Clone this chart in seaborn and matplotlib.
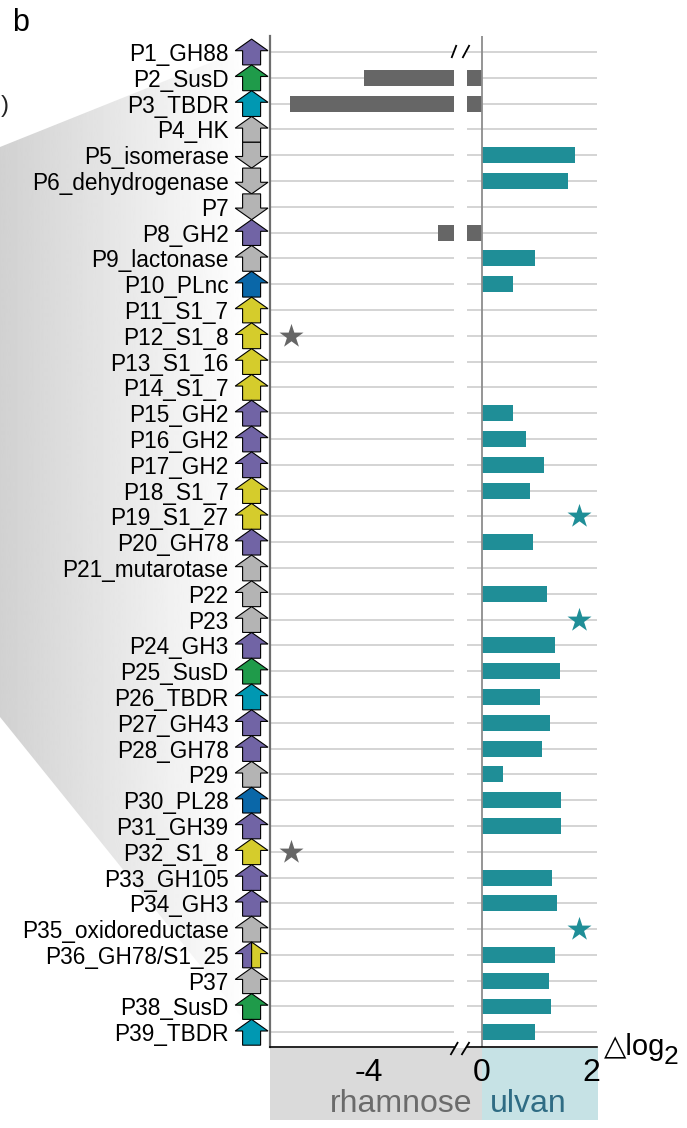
import numpy as np
import pandas as pd
import matplotlib.pyplot as plt
import seaborn as sns
from matplotlib.patches import Polygon, Rectangle

nan = np.nan

genes = ['P1_GH88', 'P2_SusD', 'P3_TBDR', 'P4_HK', 'P5_isomerase', 'P6_dehydrogenase',
         'P7', 'P8_GH2', 'P9_lactonase', 'P10_PLnc', 'P11_S1_7', 'P12_S1_8', 'P13_S1_16',
         'P14_S1_7', 'P15_GH2', 'P16_GH2', 'P17_GH2', 'P18_S1_7', 'P19_S1_27', 'P20_GH78',
         'P21_mutarotase', 'P22', 'P23', 'P24_GH3', 'P25_SusD', 'P26_TBDR', 'P27_GH43',
         'P28_GH78', 'P29', 'P30_PL28', 'P31_GH39', 'P32_S1_8', 'P33_GH105', 'P34_GH3',
         'P35_oxidoreductase', 'P36_GH78/S1_25', 'P37', 'P38_SusD', 'P39_TBDR']

family = ['GH', 'SusD', 'TBDR', 'other', 'other', 'other',
          'other', 'GH', 'other', 'PL', 'S1', 'S1', 'S1',
          'S1', 'GH', 'GH', 'GH', 'S1', 'S1', 'GH',
          'other', 'other', 'other', 'GH', 'SusD', 'TBDR', 'GH',
          'GH', 'other', 'PL', 'GH', 'S1', 'GH', 'GH',
          'other', 'GH/S1', 'other', 'SusD', 'TBDR']

# 1 = forward (arrow up), -1 = reverse (arrow down)
strand = [1, 1, 1, 1, -1, -1,
          -1, 1, 1, 1, 1, 1, 1,
          1, 1, 1, 1, 1, 1, 1,
          1, 1, 1, 1, 1, 1, 1,
          1, 1, 1, 1, 1, 1, 1,
          1, 1, 1, 1, 1]

ulvan = [nan, nan, nan, nan, 1.70, 1.57,
         nan, nan, 0.97, 0.57, nan, nan, nan,
         nan, 0.57, 0.80, 1.13, 0.88, nan, 0.93,
         nan, 1.19, nan, 1.33, 1.42, 1.06, 1.24,
         1.09, 0.38, 1.44, 1.44, nan, 1.28, 1.37,
         nan, 1.33, 1.22, 1.26, 0.97]

rhamnose = [nan, -4.09, -5.44, nan, nan, nan,
            nan, -2.74, nan, nan, nan, nan, nan,
            nan, nan, nan, nan, nan, nan, nan,
            nan, nan, nan, nan, nan, nan, nan,
            nan, nan, nan, nan, nan, nan, nan,
            nan, nan, nan, nan, nan]

rhamnose_sig = ['P12_S1_8', 'P32_S1_8']
ulvan_sig = ['P19_S1_27', 'P23', 'P35_oxidoreductase']

fam_colors = {'GH': '#7164a5', 'SusD': '#1f9b4a', 'TBDR': '#0098b2',
              'other': '#b4b4b4', 'PL': '#0a67a8', 'S1': '#d5cc2c'}
teal = '#1f8e97'
dark = '#666666'

df = pd.DataFrame({'gene': genes, 'ulvan': ulvan, 'rhamnose': rhamnose})

sns.set_style('white')
plt.rcParams['font.family'] = ['Liberation Sans', 'DejaVu Sans']
plt.rcParams['text.color'] = 'black'
plt.rcParams['xtick.color'] = 'black'
plt.rcParams['ytick.color'] = 'black'

W, H = 687, 1128
fig = plt.figure(figsize=(W / 100, H / 100), dpi=100)


def box(x0, x1, y0=36, y1=1047):
    return [x0 / W, 1 - y1 / H, (x1 - x0) / W, (y1 - y0) / H]


ylim = (38.57, -0.62)

# background: zoom shading from panel a, condition colour bands
ax_bg = fig.add_axes([0, 0, 1, 1], zorder=-10)
grad = np.linspace(0.82, 1.0, 256)[None, :]
im = ax_bg.imshow(grad, extent=[0, 250, 1045, 40], cmap='gray', vmin=0, vmax=1,
                  aspect='auto', interpolation='bilinear')
shade = Polygon([(0, 147), (262, 42), (262, 1042), (0, 717)], closed=True,
                facecolor='none', edgecolor='none', transform=ax_bg.transData)
ax_bg.add_patch(shade)
im.set_clip_path(shade)
ax_bg.add_patch(Rectangle((270, 1048), 212, 72, color='#dadada', lw=0))
ax_bg.add_patch(Rectangle((482, 1048), 116, 72, color='#c6e2e5', lw=0))
ax_bg.set_xlim(0, W)
ax_bg.set_ylim(H, 0)
ax_bg.axis('off')

ax_left = fig.add_axes(box(270, 454))
ax_right = fig.add_axes(box(467, 597))
ax_arr = fig.add_axes(box(230, 270))

# bars
sns.barplot(data=df.dropna(subset=['rhamnose']), x='rhamnose', y='gene', order=genes,
            orient='h', color=dark, width=0.62, linewidth=0, saturation=1, ax=ax_left)
sns.barplot(data=df.dropna(subset=['rhamnose']), x='rhamnose', y='gene', order=genes,
            orient='h', color=dark, width=0.62, linewidth=0, saturation=1, ax=ax_right)
sns.barplot(data=df.dropna(subset=['ulvan']), x='ulvan', y='gene', order=genes,
            orient='h', color=teal, width=0.62, linewidth=0, saturation=1, ax=ax_right)

# significance stars
STAR_L, STAR_R = -5.42, 1.77
sns.scatterplot(x=[STAR_L] * len(rhamnose_sig), y=rhamnose_sig, marker='*', s=330,
                color=dark, linewidth=0, ax=ax_left)
sns.scatterplot(x=[STAR_R] * len(ulvan_sig), y=ulvan_sig, marker='*', s=330,
                color=teal, linewidth=0, ax=ax_right)

ax_left.set_xlim(-5.81, -2.45)
ax_right.set_xlim(-0.27, 2.10)
ax_right.axvline(0, color='#8c8c8c', lw=1.3, zorder=1.5)

for ax in (ax_left, ax_right):
    ax.set_ylim(ylim)
    ax.set_xlabel('')
    ax.set_ylabel('')
    ax.set_yticks(range(len(genes)))
    ax.yaxis.grid(True, color='#d4d4d4', lw=1.4)
    ax.xaxis.grid(False)
    ax.set_axisbelow(True)
    ax.tick_params(axis='y', length=0, labelleft=False)
    ax.tick_params(axis='x', length=5, width=1, pad=3, labelsize=23, colors='black')
    for s in ('top', 'right', 'left'):
        ax.spines[s].set_visible(False)
    ax.spines['bottom'].set_color('black')
    ax.spines['bottom'].set_linewidth(1.2)

ax_left.spines['left'].set_visible(True)
ax_left.spines['left'].set_color('#6e6e6e')
ax_left.spines['left'].set_linewidth(1.6)
ax_left.set_xticks([-4])
ax_left.set_xticklabels(['-4'])
ax_right.set_xticks([0, 2])
ax_right.set_xticklabels(['0', '2'])

# gene arrows
ax_arr.set_facecolor('none')
ax_arr.set_xlim(0, 1)
ax_arr.set_ylim(ylim)
xc, hw, bw = 0.54, 0.41, 0.225
for i, (fam, st) in enumerate(zip(family, strand)):
    if st > 0:
        tip, base, end = i - 0.5, i - 0.05, i + 0.5
    else:
        tip, base, end = i + 0.5, i + 0.05, i - 0.5
    left = [(xc, tip), (xc - hw, base), (xc - bw, base), (xc - bw, end), (xc, end)]
    right = [(xc, tip), (xc + hw, base), (xc + bw, base), (xc + bw, end), (xc, end)]
    if '/' in fam:
        c1, c2 = [fam_colors[f] for f in fam.split('/')]
        ax_arr.add_patch(Polygon(left, closed=True, facecolor=c1, edgecolor='black', lw=0.8))
        ax_arr.add_patch(Polygon(right, closed=True, facecolor=c2, edgecolor='black', lw=0.8))
    else:
        outline = left + right[::-1][:-1]
        ax_arr.add_patch(Polygon(outline, closed=True, facecolor=fam_colors[fam],
                                 edgecolor='black', lw=0.8))
ax_arr.set_yticks(range(len(genes)))
ax_arr.set_yticklabels(genes, fontsize=16.3, color='black')
ax_arr.tick_params(axis='y', length=0, pad=1)
ax_arr.set_xticks([])
for s in ax_arr.spines.values():
    s.set_visible(False)

# overlay: axis break marks and texts
ax_ov = fig.add_axes([0, 0, 1, 1], zorder=10)
ax_ov.set_xlim(0, W)
ax_ov.set_ylim(H, 0)
ax_ov.axis('off')
for (x0, y0, x1, y1) in [(451.5, 58, 456.5, 45), (462.5, 58, 469.5, 45),
                         (450.5, 1055, 458, 1042), (461.5, 1055, 469.5, 1042)]:
    ax_ov.plot([x0, x1], [y0, y1], color='black', lw=1.3, solid_capstyle='butt')

ax_ov.text(12, 31, 'b', fontsize=22, va='baseline', color='black')
ax_ov.text(1, 106, ')', fontsize=17, ha='left', va='center', color='#222222')
ax_ov.text(604, 1055, '\u25b3log', fontsize=21, va='baseline', color='black')
ax_ov.text(664, 1064, '2', fontsize=19, va='baseline', color='black')
ax_ov.text(472, 1112, 'rhamnose', fontsize=23, ha='right', va='baseline', color='#6b6b6b')
ax_ov.text(490, 1112, 'ulvan', fontsize=23, ha='left', va='baseline', color='#2f6c84')

fig.savefig('out.png', dpi=100)
